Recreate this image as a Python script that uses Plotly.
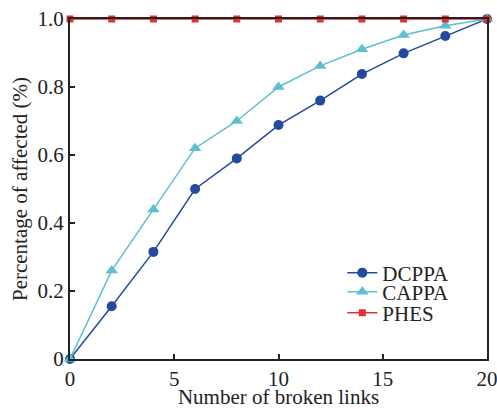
import plotly.graph_objects as go

x_vals = [0, 2, 4, 6, 8, 10, 12, 14, 16, 18, 20]
dcppa = [0, 0.155, 0.315, 0.50, 0.59, 0.688, 0.76, 0.838, 0.899, 0.95, 1.0]
cappa = [0, 0.26, 0.44, 0.62, 0.70, 0.80, 0.862, 0.911, 0.953, 0.98, 1.0]
phes = [1.0] * 11

y_tickvals = [0, 0.2, 0.4, 0.6, 0.8, 1.0]
y_ticktext = ["0", "0.2", "0.4", "0.6", "0.8", "1.0"]
x_tickvals = [0, 5, 10, 15, 20]

fig = go.Figure()
fig.add_trace(go.Scatter(x=x_vals, y=dcppa, name="DCPPA", mode="lines+markers",
                         line=dict(color="#2449a0", width=1.5),
                         marker=dict(symbol="circle", size=10, color="#2449a0"),
                         cliponaxis=False, legend="legend"))
fig.add_trace(go.Scatter(x=x_vals, y=cappa, name="CAPPA", mode="lines+markers",
                         line=dict(color="#5cc0cf", width=1.5),
                         marker=dict(symbol="triangle-up", size=11, color="#5cc0cf"),
                         cliponaxis=False, legend="legend2"))
fig.add_trace(go.Scatter(x=x_vals, y=phes, name="PHES", mode="lines+markers",
                         line=dict(color="#e03030", width=1.5),
                         marker=dict(symbol="square", size=7, color="#e03030"),
                         cliponaxis=False, legend="legend3"))

font = "Liberation Serif, Times New Roman, serif"
leg_common = dict(x=0.653, xanchor="left", yanchor="middle",
                  bgcolor="rgba(0,0,0,0)", font=dict(size=21, family=font, color="#222"),
                  itemwidth=30)
fig.update_layout(
    width=497, height=409,
    margin=dict(l=70, r=10, t=19, b=50),
    paper_bgcolor="white", plot_bgcolor="white",
    font=dict(family=font, size=21, color="#222"),
    showlegend=True,
    legend=dict(y=0.253, **leg_common),
    legend2=dict(y=0.197, **leg_common),
    legend3=dict(y=0.135, **leg_common),
    xaxis=dict(range=[0, 20], tickvals=x_tickvals, ticks="inside", ticklen=5,
               tickwidth=1.5, tickcolor="#222", showline=True, linecolor="#222",
               linewidth=2, mirror=True, showgrid=False, zeroline=False,
               automargin=False, ticklabeloverflow="allow",
               title=dict(text="Number of broken links", standoff=0,
                          font=dict(size=21, family=font)),
               tickfont=dict(size=21, family=font)),
    yaxis=dict(range=[0, 1.0], tickvals=y_tickvals, ticktext=y_ticktext,
               ticks="inside", ticklen=5, tickwidth=1.5, tickcolor="#222",
               showline=True, linecolor="#222", linewidth=2, mirror=True,
               showgrid=False, zeroline=False, automargin=False,
               ticklabeloverflow="allow",
               title=dict(text="Percentage of affected (%)", standoff=4,
                          font=dict(size=21, family=font)),
               tickfont=dict(size=21, family=font)),
)

fig.write_html("out.html", config={"displayModeBar": False},
               post_script="document.body.style.margin='0';")
